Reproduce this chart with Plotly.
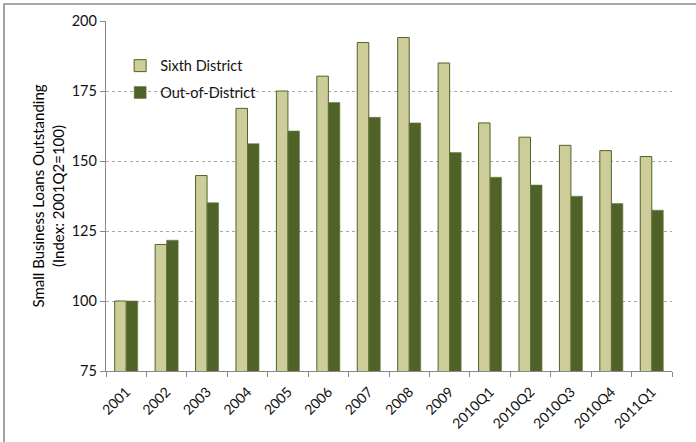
import plotly.graph_objects as go

# Small business loans outstanding, index 2001Q2 = 100
periods = ["2001", "2002", "2003", "2004", "2005", "2006", "2007", "2008",
           "2009", "2010Q1", "2010Q2", "2010Q3", "2010Q4", "2011Q1"]
sixth_district = [100.0, 120.2, 144.8, 168.8, 175.0, 180.3, 192.3, 194.1,
                  185.0, 163.6, 158.5, 155.6, 153.7, 151.6]
out_of_district = [100.0, 121.7, 135.1, 156.2, 160.7, 170.9, 165.6, 163.6,
                   153.0, 144.2, 141.4, 137.4, 134.8, 132.4]
y_ticks = [75, 100, 125, 150, 175, 200]

FONT = "Lato, 'Open Sans', sans-serif"
LIGHT = "#CECD99"
DARK = "#4F6228"
AXIS = "#888888"

fig = go.Figure()
fig.add_trace(go.Bar(
    x=periods, y=sixth_district, name="Sixth District",
    marker=dict(color=LIGHT, line=dict(color=DARK, width=1)),
    legendgroup="a",
))
fig.add_trace(go.Bar(
    x=periods, y=out_of_district, name="Out-of-District",
    marker=dict(color=DARK, line=dict(color="#6B7D45", width=0.6)),
    legendgroup="b",
))

# Chart frame: left and top edges of the outer border
fig.add_shape(type="path", xref="paper", yref="paper",
              path="M -0.1802,-0.3 L -0.1802,1.0486 L 1.2,1.0486",
              line=dict(color="#8C8C8C", width=1.6))

fig.update_layout(
    width=696, height=442,
    margin=dict(l=106, r=24, t=21, b=71, autoexpand=False),
    paper_bgcolor="white", plot_bgcolor="white",
    font=dict(family=FONT, size=14, color="#111111"),
    barmode="group", bargap=0.43, bargroupgap=0.0,
    showlegend=True,
    legend=dict(x=0.025, y=0.918, xanchor="left", yanchor="top",
                bgcolor="rgba(255,255,255,0)", traceorder="grouped",
                tracegroupgap=5, font=dict(size=14.5)),
    xaxis=dict(
        tickangle=-45, tickson="boundaries", ticks="outside", ticklen=5,
        tickcolor=AXIS, showline=True, linecolor=AXIS, linewidth=1.3,
        showgrid=False, tickfont=dict(size=14), ticklabelstandoff=6,
        automargin=False,
    ),
    yaxis=dict(
        range=[75, 200], tickvals=y_ticks, ticks="outside", ticklen=5,
        tickcolor=AXIS, showline=True, linecolor=AXIS, linewidth=1.3,
        showgrid=True, gridcolor="#A8A8A8", griddash="dot", gridwidth=1,
        zeroline=False, tickfont=dict(size=14.5), automargin=False,
        title=dict(text="Small Business Loans Outstanding<br>(Index: 2001Q2=100)",
                   font=dict(size=15, color="#000000"), standoff=3),
    ),
)

fig.write_html("out.html")
